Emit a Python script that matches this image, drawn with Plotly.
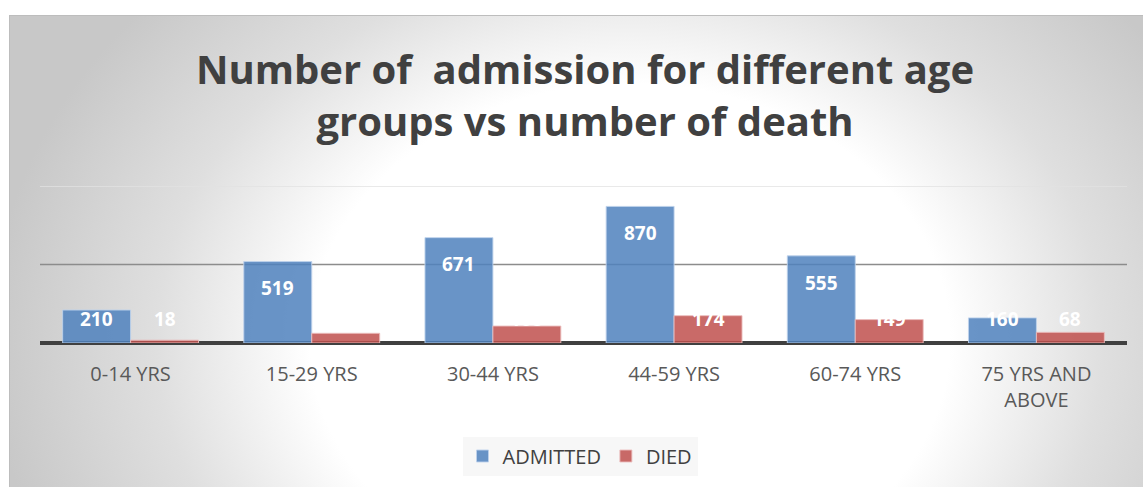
import base64
import plotly.graph_objects as go

categories = ["0-14 YRS", "15-29 YRS", "30-44 YRS", "44-59 YRS", "60-74 YRS", "75 YRS AND<br>ABOVE"]
admitted = [210, 519, 671, 870, 555, 160]
died = [18, 62, 108, 174, 149, 68]
grid_values = [500, 1000]
grid_colors = ["#8c8c8c", "#e2e2e2"]

W, H = 1143, 487
ML, MR, MT, MB = 40, 16, 186, 144
PW, PH = W - ML - MR, H - MT - MB
BARGAP = 0.25

BLUE = "rgba(79,129,189,0.85)"
RED = "rgba(192,80,77,0.85)"

# background radial gradient (frame)
fx0, fy0, fx1, fy1 = 9, 15, 1143, 487
cx, cy = 630 - fx0, 340 - fy0
svg = f'''<svg xmlns="http://www.w3.org/2000/svg" width="{fx1-fx0}" height="{fy1-fy0}" viewBox="0 0 {fx1-fx0} {fy1-fy0}" preserveAspectRatio="none">
<defs><radialGradient id="g" gradientUnits="userSpaceOnUse" cx="{cx}" cy="{cy}" r="640" gradientTransform="translate({cx} {cy}) scale(1 0.8) translate({-cx} {-cy})">
<stop offset="0" stop-color="#ffffff"/><stop offset="0.5" stop-color="#ffffff"/><stop offset="0.74" stop-color="#dfdfdf"/><stop offset="1" stop-color="#c8c8c8"/></radialGradient></defs>
<rect x="0" y="0" width="{fx1-fx0}" height="{fy1-fy0}" fill="url(#g)"/>
<line x1="0" y1="0.5" x2="{fx1-fx0}" y2="0.5" stroke="#bdbdbd" stroke-width="1"/>
<line x1="0.5" y1="0" x2="0.5" y2="{fy1-fy0}" stroke="#bdbdbd" stroke-width="1"/>
</svg>'''
src = "data:image/svg+xml;base64," + base64.b64encode(svg.encode()).decode()

fig = go.Figure()
fig.add_trace(go.Bar(x=categories, y=admitted, name="ADMITTED",
                     marker=dict(color=BLUE, line=dict(color="rgba(190,210,235,0.9)", width=1))))
fig.add_trace(go.Bar(x=categories, y=died, name="DIED",
                     marker=dict(color=RED, line=dict(color="rgba(235,190,190,0.9)", width=1))))

for gv, gc in zip(grid_values, grid_colors):
    fig.add_shape(type="line", xref="paper", yref="y", x0=0, x1=1, y0=gv, y1=gv,
                  line=dict(color=gc, width=1.5), layer="below")

# data labels
slot = PW / len(categories)
bar_w = slot * (1 - BARGAP) / 2
for series, sgn in ((admitted, -1), (died, 1)):
    for c, v in zip(categories, series):
        fig.add_annotation(x=c, y=max(v - 170, 150), xref="x", yref="y",
                           text=f"<b>{v}</b>", showarrow=False,
                           xshift=sgn * bar_w / 2, yanchor="middle",
                           font=dict(family="Open Sans", size=19, color="white"))

fig.add_layout_image(dict(source=src, xref="paper", yref="paper",
                          x=(fx0 - ML) / PW, y=(H - MB - fy0) / PH,
                          sizex=(fx1 - fx0) / PW, sizey=(fy1 - fy0) / PH,
                          sizing="stretch", xanchor="left", yanchor="top", layer="below"))

fig.update_layout(
    width=W, height=H,
    margin=dict(l=ML, r=MR, t=MT, b=MB),
    paper_bgcolor="white", plot_bgcolor="rgba(0,0,0,0)",
    barmode="group", bargap=BARGAP, bargroupgap=0,
    title=dict(text="<b>Number of  admission for different age<br>groups vs number of death</b>",
               x=585 / W, xanchor="center", xref="container",
               y=1 - 84 / H, yanchor="top", yref="container",
               font=dict(family="Open Sans", size=40, color="#404040")),
    legend=dict(orientation="h", x=(580 - ML) / PW, xanchor="center",
                y=(H - MB - 456) / PH, yanchor="middle",
                bgcolor="rgba(246,246,246,0.9)", font=dict(family="Open Sans", size=20, color="#404040"),
                itemwidth=30, tracegroupgap=0),
    font=dict(family="Open Sans", color="#595959"),
    showlegend=True,
)
fig.update_xaxes(showgrid=False, showline=False, ticks="", ticklabelstandoff=17,
                 tickfont=dict(family="Open Sans", size=20, color="#595959"))
fig.update_yaxes(range=[0, 1000], showgrid=False, showticklabels=False,
                 zeroline=True, zerolinecolor="#404040", zerolinewidth=4)

fig.write_html("out.html", config={"displayModeBar": False},
               post_script="document.body.style.margin='0px';")
